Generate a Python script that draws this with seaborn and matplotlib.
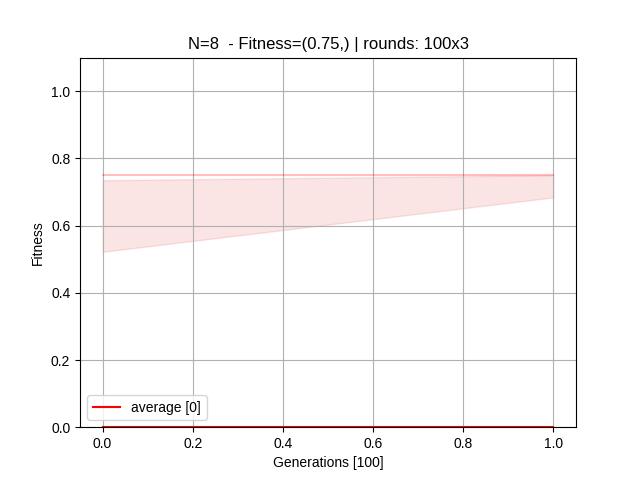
import numpy as np
import pandas as pd

import matplotlib
matplotlib.use('Agg')
import matplotlib.pyplot as plt
import seaborn as sns

plt.rcParams['font.family'] = ['Liberation Sans', 'DejaVu Sans']

generations = [0.0, 1.0]
average = [0.0, 0.0]
best = [0.75, 0.75]
band_low = [0.522, 0.684]
band_high = [0.735, 0.75]

df = pd.DataFrame({'gen': generations, 'average': average})

fig, ax = plt.subplots(figsize=(6.4, 4.8), dpi=100)
ax.fill_between(generations, band_low, band_high, color='tab:red', alpha=0.12)
ax.plot(generations, best, color='red', alpha=0.25, linewidth=1.5)
sns.lineplot(data=df, x='gen', y='average', color='red', label='average [0]', ax=ax)

ax.set_ylim(0, 1.1)
ax.grid(True)
ax.set_xlabel('Generations [100]')
ax.set_ylabel('Fitness')
ax.set_title('N=8  - Fitness=(0.75,) | rounds: 100x3')
ax.legend(loc='lower left')
plt.savefig('out.png')
plt.close()
